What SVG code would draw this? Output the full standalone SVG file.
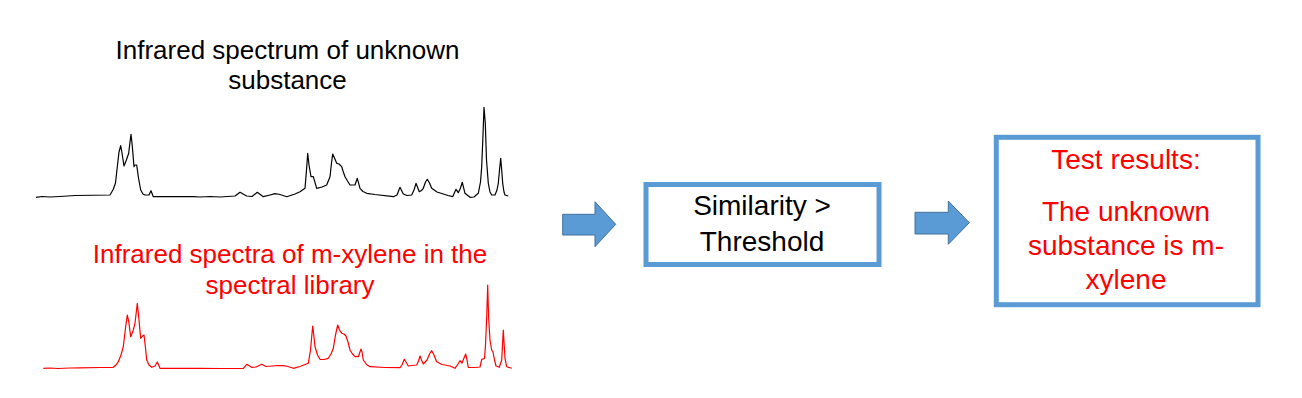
<svg xmlns="http://www.w3.org/2000/svg" width="1302" height="398" viewBox="0 0 1302 398">
<style>
text{font-family:"Liberation Sans",Arial,sans-serif;font-size:26px;text-anchor:middle}
.big{font-size:28px}
.blk{fill:#000}
.red{fill:#FF0000}
.box{fill:#fff;stroke:#5B9BD5;stroke-width:5}
.arr{fill:#5B9BD5;stroke:#41719C;stroke-width:1}
.spec{fill:none;stroke-width:1.2;stroke-linejoin:round}
</style>
<g id="unknown-spectrum">
<text class="blk" x="287.5" y="59">Infrared spectrum of unknown</text>
<text class="blk" x="287.5" y="89">substance</text>
<polyline class="spec" stroke="#000" points="36,197.3 42,196.5 50,197 60,196.5 75,195.5 110,195 113.3,189.3 115.5,183 117.3,166.7 119,152 120.7,145.7 122,153 124,166 126,161 128.7,153.3 130,142 131,134.3 132.2,145 134,166.7 135,165 136.7,165 138.5,178 140.7,190 143,194 145,195 149,195 151,190.7 153.3,196.7 193.3,196.7 200,197 210,196.5 220,197 235,196 240,192.3 246.7,196 252,196.5 257.3,192.3 263.3,196.7 270,195 275,193.7 280,194.5 286.7,196.7 295,194 300,191.7 305,188.3 306.5,170 307.7,153.3 309,165 311,176.7 313.3,176.7 316.7,188.3 322,187 326.7,185 330,176.7 331.5,163 332.7,154 334.5,158 336.7,163.3 339,164 341.7,166.7 343,171 345,176.7 347.5,181 350,185 355,185 357.3,178.3 360,188.3 363,191.5 366.7,193.3 375,194.5 393.3,196.7 397,195 400,187.3 403.3,194 407,195.5 411.7,195 414,190 416,183.3 419.3,191.7 421.5,190.5 423.3,188.3 425.5,182 427.3,179.3 429.5,183 431.7,188.3 437,192 443.3,194 448,195.5 452.7,196.7 456,189.3 458.3,192.7 460.5,188 462.3,182.3 465,193.3 470,197.3 474,197 478.3,193.3 480.5,182 481.7,166.7 483,135 484,107.3 485.3,123.3 486.5,160 488.3,183.3 490,192 491.7,195 495,195 497,190 498.3,183.3 499.5,170 500.7,158.3 501.7,170 502.7,183.3 504,192 505,195 508.3,196"/>
</g>
<g id="library-spectrum">
<text class="red" x="290" y="263">Infrared spectra of m-xylene in the</text>
<text class="red" x="290" y="294">spectral library</text>
<polyline class="spec" stroke="#FF0000" points="43.3,368.3 50,368 58,368.5 70,368 80,367.8 100,367.5 113.3,367.3 116,365 118.3,361.7 121,355 123.3,346.7 125.5,328 127.3,315 128.8,322 130.7,336.7 133,331 135,323.3 136.3,312 137.3,303.3 138.5,315 140.7,338.3 142.5,336 144,335 145.5,348 146.7,360 149,365 151.7,367.3 155,366 157.3,362 160,368.3 200,368.3 220,368.5 243.3,368.3 246.7,364.3 251.7,367.3 256,367 261.7,364.3 266,366.5 272,366 278,365.5 283.3,365.7 288,366.5 293.3,368.3 300,366.5 308.3,363.3 310.5,350 312.7,326 313.8,335 315,346.7 317.5,355 320,359.3 324,359.5 328.3,358.3 331,354 333.3,348.3 335.5,335 337.7,325 339.5,330 341.7,333.3 344,334 346,336 348,342 350,350 352.5,354 355,356.7 358.3,356.7 361,349 362,352 363.3,360 366.5,364.5 370,366.7 385,367.5 400,367.7 402,365 404.3,359.3 406,362 408.3,366 412,365.5 416.7,365 418.5,361 420,356 421.5,360 423.3,364 427,360 429.5,354 431.7,350.7 434,355 436.7,361.7 442,364.5 450,366 455,368.3 458,364 460,360.7 462,363 464,358 465.7,354 467,360 468.3,367.3 475,367.5 480,367 481.7,359.3 484.5,358.5 485.5,345 486.7,317.3 487.7,285 488.6,317.3 490,340 491.7,350 493,352 494.5,360 496,366 499.3,367.3 501.7,360 502.5,345 503.3,330 504.2,345 505,358.3 506.7,366.7 511.7,368.3"/>
</g>
<g id="connectors">
<polygon class="arr" points="562.7,214.3 595,214.3 595,201.7 615.7,224.3 595,246.7 595,235 562.7,235"/>
<polygon class="arr" points="915,212.3 948.3,212.3 948.3,201 969.3,222.7 948.3,244.3 948.3,234 915,234"/>
</g>
<g id="similarity-node">
<rect class="box" x="646" y="184.5" width="233" height="80"/>
<text class="blk big" x="762" y="215">Similarity &gt;</text>
<text class="blk big" x="762" y="251">Threshold</text>
</g>
<g id="result-node">
<rect class="box" x="996.3" y="137.3" width="261.7" height="167.4"/>
<text class="red big" x="1126" y="169">Test results:</text>
<text class="red big" x="1126" y="221">The unknown</text>
<text class="red big" x="1126" y="255">substance is m-</text>
<text class="red big" x="1126" y="289">xylene</text>
</g>
</svg>
